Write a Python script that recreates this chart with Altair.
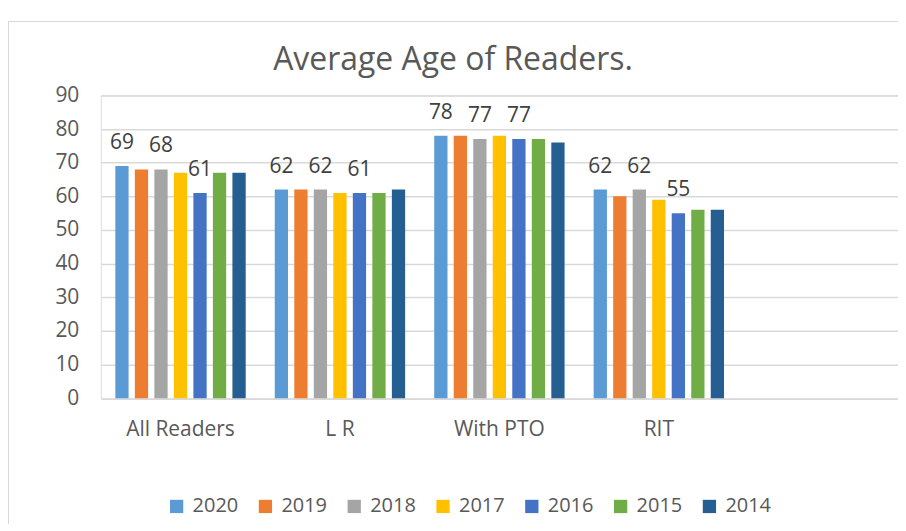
import altair as alt
import pandas as pd

categories = ["All Readers", "L R", "With PTO", "RIT"]
years = ["2020", "2019", "2018", "2017", "2016", "2015", "2014"]
colors = ["#5B9BD5", "#ED7D31", "#A5A5A5", "#FFC000", "#4472C4", "#70AD47", "#255E91"]
all_readers = [69, 68, 68, 67, 61, 67, 67]
l_r = [62, 62, 62, 61, 61, 61, 62]
with_pto = [78, 78, 77, 78, 77, 77, 76]
rit = [62, 60, 62, 59, 55, 56, 56]
labelled_years = ["2020", "2018", "2016"]
y_ticks = [0, 10, 20, 30, 40, 50, 60, 70, 80, 90]
chart_title = "Average Age of Readers."

series = [all_readers, l_r, with_pto, rit]
rows = []
for cat, vals in zip(categories, series):
    for yr, v in zip(years, vals):
        rows.append({"category": cat, "year": yr, "value": v})
df = pd.DataFrame(rows)

FONT = "Open Sans"
GRID = "#d9d9d9"

x_enc = alt.X(
    "category:N",
    sort=None,
    scale=alt.Scale(domain=categories + [""], paddingInner=0, paddingOuter=0),
    axis=alt.Axis(title=None, labelAngle=0, ticks=False, domain=False,
                  labelFontSize=21, labelColor="#595959", labelPadding=20,
                  labelFont=FONT),
)
xoff_enc = alt.XOffset("year:N", sort=None,
                       scale=alt.Scale(domain=years, paddingInner=0.32, paddingOuter=0.745))
y_enc = alt.Y(
    "value:Q",
    scale=alt.Scale(domain=[0, 90], nice=False),
    axis=alt.Axis(title=None, values=y_ticks, ticks=False, domain=False,
                  gridColor=GRID, gridWidth=1.5, labelFontSize=21,
                  labelColor="#595959", labelPadding=22, labelFont=FONT),
)

bars = alt.Chart(df).mark_bar().encode(
    x=x_enc,
    xOffset=xoff_enc,
    y=y_enc,
    color=alt.Color(
        "year:N", sort=None,
        scale=alt.Scale(domain=years, range=colors),
        legend=alt.Legend(orient="none", legendX=66, legendY=402, direction="horizontal",
                          title=None, symbolType="square", symbolSize=177,
                          symbolStrokeWidth=0, labelFontSize=20, labelColor="#595959",
                          labelFont=FONT, labelOffset=6, columnPadding=17, padding=0),
    ),
)

labels = alt.Chart(df).transform_filter(
    alt.FieldOneOfPredicate(field="year", oneOf=labelled_years)
).mark_text(baseline="alphabetic", dy=-17, fontSize=21, color="#404040", font=FONT).encode(
    x=x_enc, xOffset=xoff_enc, y=y_enc, text="value:Q"
)

deco_data = alt.Data(values=[{"t": chart_title}])
title_mark = alt.Chart(deco_data).mark_text(
    baseline="alphabetic", align="center", fontSize=32, color="#595959", font=FONT
).encode(x=alt.value(353), y=alt.value(-25), text="t:N")

top_border = alt.Chart(deco_data).mark_rule(color=GRID, strokeWidth=1).encode(
    x=alt.value(-92.5), x2=alt.value(810), y=alt.value(-74)
)
left_border = alt.Chart(deco_data).mark_rule(color=GRID, strokeWidth=1).encode(
    x=alt.value(-92.5), y=alt.value(-74), y2=alt.value(440)
)

chart = alt.layer(bars, labels, title_mark, top_border, left_border).properties(
    width=799,
    height=303.5,
    autosize="none",
    padding={"left": 93, "top": 87, "right": 0, "bottom": 125},
).configure_view(stroke=None).configure(font=FONT)

chart.save("out.html", embed_options={"renderer": "svg", "actions": False})
